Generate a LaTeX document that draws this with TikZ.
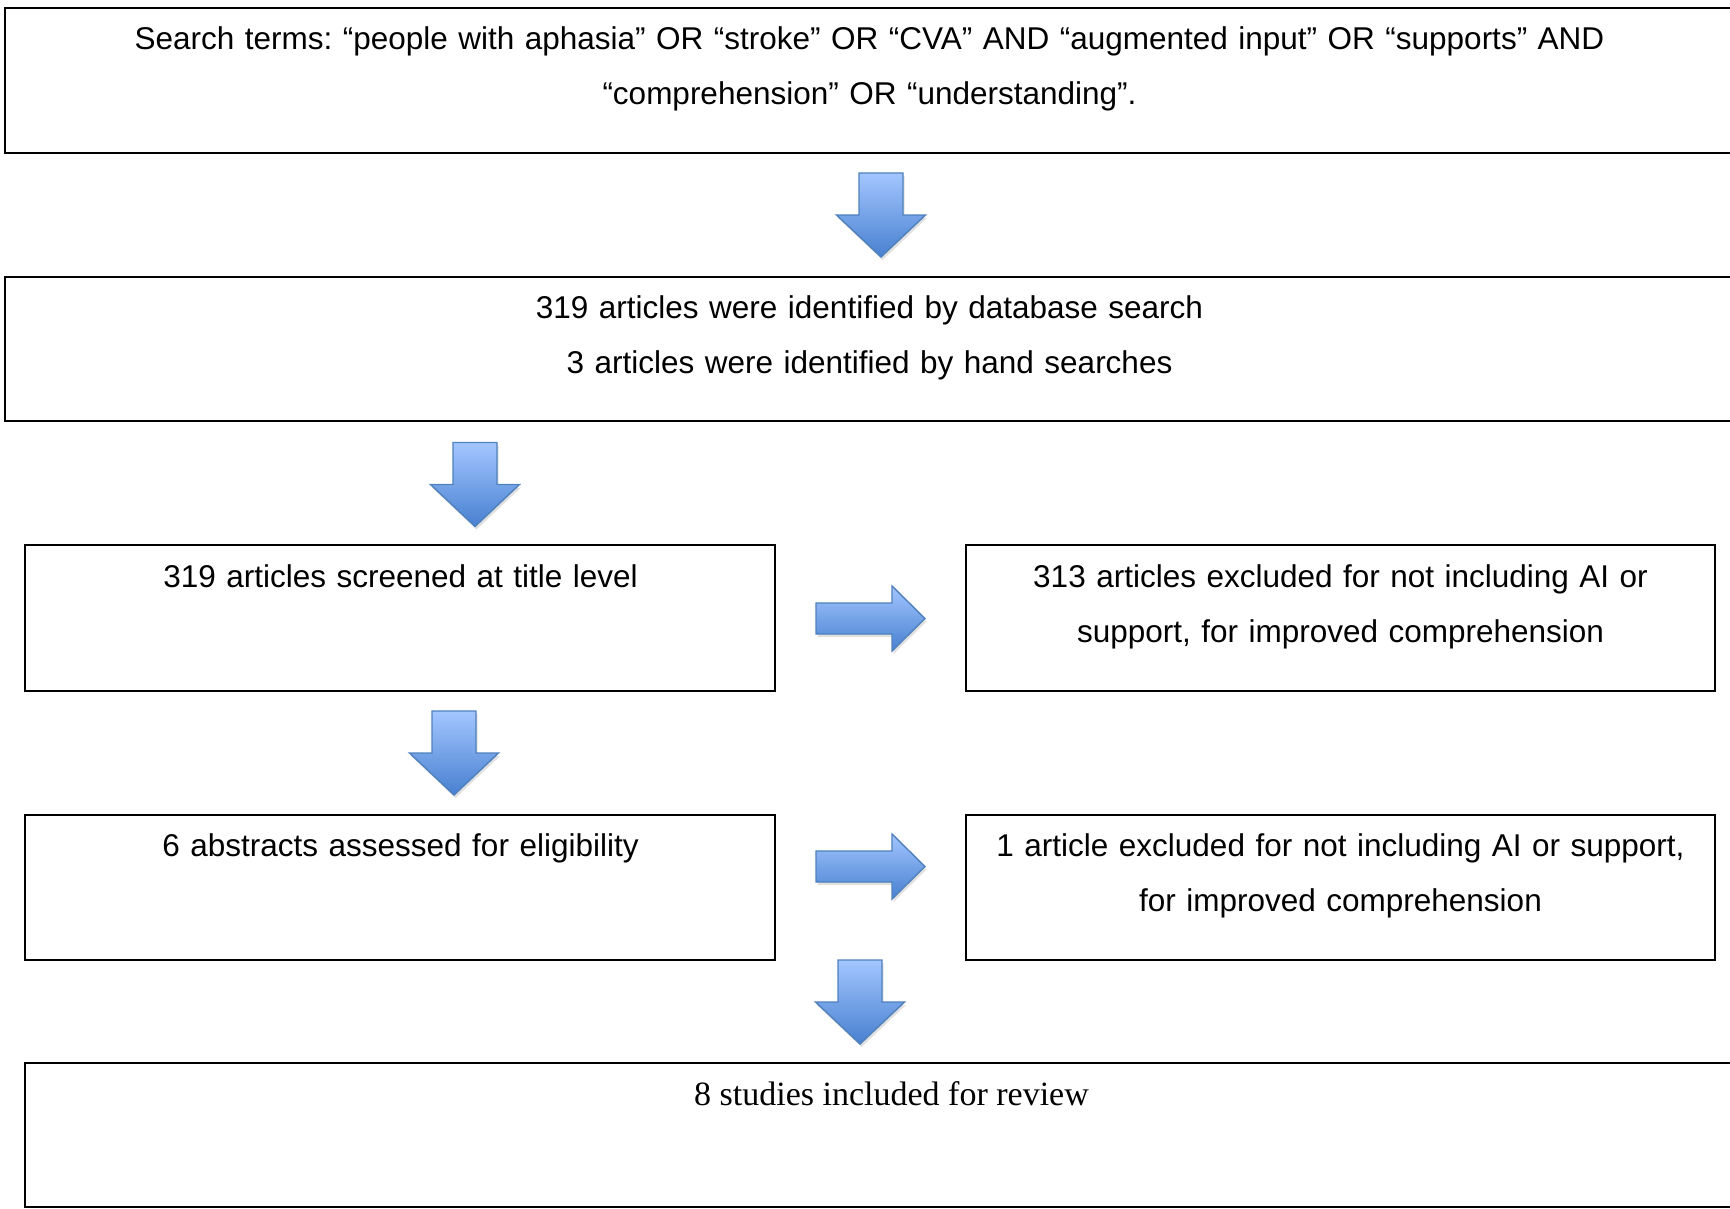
\documentclass[tikz,border=0pt]{standalone}
\usepackage{fontspec}
\setmainfont{Liberation Sans}
\newfontfamily\serifx{Liberation Serif}
\frenchspacing
\definecolor{arrtop}{RGB}{163,198,255}
\definecolor{arrbot}{RGB}{72,128,208}
\definecolor{arredge}{RGB}{79,129,189}
\tikzset{
  boxst/.style={draw=black, line width=2.6pt, fill=white},
  lbl/.style={font=\fontsize{31.5}{55}\selectfont, inner sep=0pt, anchor=base, align=center},
  arrowst/.style={top color=arrtop, bottom color=arrbot, draw=arredge, line width=1.4pt, line join=miter},
  arrshadow/.style={fill=black, opacity=0.12},
  darrow/.pic={
    \path[arrshadow] (-20.5,3) -- (23.5,3) -- (23.5,45) -- (46,45) -- (1.5,87) -- (-43,45) -- (-20.5,45) -- cycle;
    \path[arrowst] (-22,0) -- (22,0) -- (22,42) -- (44.5,42) -- (0,84) -- (-44.5,42) -- (-22,42) -- cycle;
  },
  rarrow/.pic={
    \path[arrshadow] (1.5,-12.5) -- (77.5,-12.5) -- (77.5,-29.5) -- (110.5,3) -- (77.5,35.5) -- (77.5,18.5) -- (1.5,18.5) -- cycle;
    \path[arrowst] (0,-15.5) -- (76,-15.5) -- (76,-32.5) -- (109,0) -- (76,32.5) -- (76,15.5) -- (0,15.5) -- cycle;
  }
}
\begin{document}
\begin{tikzpicture}[x=1pt,y=-1pt]
\clip (0,0) rectangle (1730,1208);
\fill[white] (0,0) rectangle (1730,1208);

% boxes
\draw[boxst] (5,8) rectangle (1765,153) node[pos=0.5] (search) {};
\draw[boxst] (5,277) rectangle (1765,421) node[pos=0.5] (ident) {};
\draw[boxst] (25,545) rectangle (775,691) node[pos=0.5] (screen) {};
\draw[boxst] (966,545) rectangle (1715,691) node[pos=0.5] (excl1) {};
\draw[boxst] (25,815) rectangle (775,960) node[pos=0.5] (abstr) {};
\draw[boxst] (966,815) rectangle (1715,960) node[pos=0.5] (excl2) {};
\draw[boxst] (25,1063) rectangle (1765,1207) node[pos=0.5] (incl) {};

% texts
\node[lbl, text width=1700pt] (t1) at (869.5,49.5) {Search terms: “people with aphasia” OR “stroke” OR “CVA” AND “augmented input” OR “supports” AND\\“comprehension” OR “understanding”.};
\node[lbl, text width=1700pt] (t2) at (869.5,318) {319 articles were identified by database search\\3 articles were identified by hand searches};
\node[lbl, text width=740pt] (t3) at (400.5,587) {319 articles screened at title level};
\node[lbl, text width=740pt] (t4) at (1340.5,587) {313 articles excluded for not including AI or\\support, for improved comprehension};
\node[lbl, text width=740pt] (t5) at (400.5,856) {6 abstracts assessed for eligibility};
\node[lbl, text width=740pt] (t6) at (1340.5,856) {1 article excluded for not including AI or support,\\for improved comprehension};
\node[lbl, font=\serifx\fontsize{34}{40}\selectfont] (t7) at (891.5,1105) {8 studies included for review};

% block arrows
\pic at (881,173) {darrow};
\pic at (475,442.5) {darrow};
\pic at (454,711) {darrow};
\pic at (860,960) {darrow};
\pic at (816,618.5) {rarrow};
\pic at (816,866.5) {rarrow};
\end{tikzpicture}
\end{document}
